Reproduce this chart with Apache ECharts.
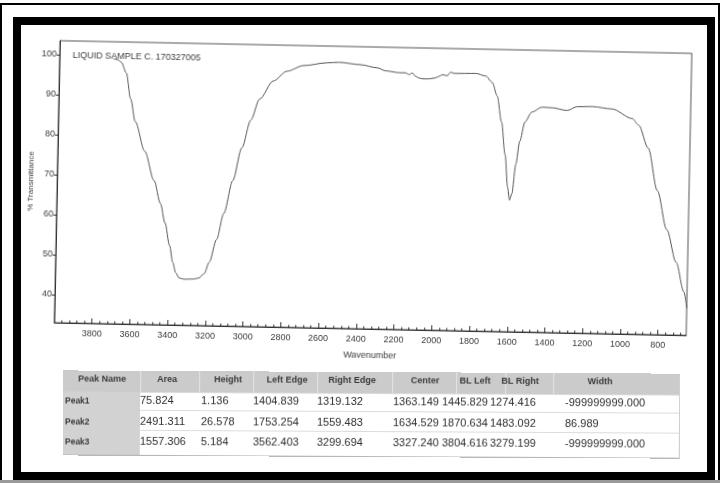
<!DOCTYPE html>
<html>
<head>
<meta charset="utf-8">
<script src="https://cdn.jsdelivr.net/npm/echarts@6/dist/echarts.min.js"></script>
<style>
  html, body { margin: 0; padding: 0; background: #fff; }
  #page { position: relative; width: 720px; height: 483px; overflow: hidden; background: #fff;
          font-family: "Liberation Sans", Arial, sans-serif; }
  #outer { position: absolute; left: 0; top: 3px; width: 716px; height: 478px; border: 2px solid #000; }
  #frame { position: absolute; left: 13px; top: 17px; width: 686px; height: 447px; border: 8px solid #000; }
  #strip { position: absolute; left: 0; top: 480px; width: 720px; height: 3px; background: #9a9a9a; }
  #spectrum { position: absolute; left: 0; top: 0; width: 720px; height: 365px;
              transform: rotate(1.15deg); transform-origin: 373px 191px; }
  #peaks { position: absolute; left: 63px; top: 372px; width: 617px; height: 85px;
           transform: rotate(0.3deg); transform-origin: 300px 40px; }
  .bg { position: absolute; background: #cbcbcb; }
  .rule { position: absolute; background: #b8b8b8; }
  .hd { position: absolute; font-size: 9px; font-weight: bold; color: #3a3a3a; transform: translateX(-50%); white-space: nowrap; }
  .nm { position: absolute; font-size: 8.5px; font-weight: bold; color: #3a3a3a; }
  .val { position: absolute; font-size: 11px; color: #2e2e2e; white-space: nowrap; }
</style>
</head>
<body>
<div id="page">
  <div id="outer"></div>
  <div id="frame"></div>
  <div id="strip"></div>
  <div id="spectrum"></div>
  <div id="peaks"></div>
</div>
<script>
// spectrum: wavenumber (cm-1) and % transmittance
const wavenumber = [3715, 3690, 3672, 3645, 3619, 3592, 3539, 3486, 3450, 3424, 3397, 3379, 3362, 3344, 3317,
  3291, 3265, 3238, 3211, 3185, 3149, 3113, 3069, 3025, 2980, 2936, 2865, 2794, 2706, 2581, 2519, 2404, 2315,
  2271, 2200, 2165, 2147, 2129, 2112, 2094, 2076, 2041, 2005, 1987, 1970, 1943, 1926, 1908, 1792, 1739, 1704,
  1677, 1651, 1629, 1612, 1601, 1589, 1571, 1553, 1527, 1492, 1438, 1385, 1305, 1252, 1172, 1066, 959, 924,
  871, 818, 764, 711, 667, 650];
const transmittance = [99.3, 99.0, 98.4, 95.8, 89.3, 83.6, 76.3, 69.0, 63.3, 58.5, 52.8, 48.7, 46.1, 44.8, 44.5,
  44.55, 44.6, 44.9, 46.0, 48.9, 54.6, 61.2, 69.4, 77.6, 84.6, 89.9, 94.5, 97.0, 98.5, 99.3, 99.5, 99.0, 98.3,
  97.6, 97.2, 97.2, 96.8, 97.2, 96.4, 96.0, 95.8, 95.8, 96.1, 96.5, 96.9, 96.7, 97.6, 97.3, 97.4, 96.8, 95.2,
  91.9, 85.4, 77.3, 69.1, 65.9, 67.5, 74.9, 80.6, 85.5, 88.0, 89.3, 89.2, 88.6, 89.6, 89.7, 89.2, 86.9, 85.3,
  79.6, 69.0, 59.3, 51.2, 43.9, 39.8];

const xLabels = [3800, 3600, 3400, 3200, 3000, 2800, 2600, 2400, 2200, 2000, 1800, 1600, 1400, 1200, 1000, 800];
const yLabels = [40, 50, 60, 70, 80, 90, 100];
const minorTicks = [];
for (let t = 680; t < 4000; t += 40) minorTicks.push(t);

const sampleTitle = 'LIQUID SAMPLE C. 170327005';

// peak table
const tableHeaders = ['Peak Name', 'Area', 'Height', 'Left Edge', 'Right Edge', 'Center', 'BL Left', 'BL Right', 'Width'];
const peakNames = ['Peak1', 'Peak2', 'Peak3'];
const area = ['75.824', '2491.311', '1557.306'];
const height = ['1.136', '26.578', '5.184'];
const leftEdge = ['1404.839', '1753.254', '3562.403'];
const rightEdge = ['1319.132', '1559.483', '3299.694'];
const center = ['1363.149', '1634.529', '3327.240'];
const blLeft = ['1445.829', '1870.634', '3804.616'];
const blRight = ['1274.416', '1483.092', '3279.199'];
const width = ['-999999999.000', '86.989', '-999999999.000'];

const chart = echarts.init(document.getElementById('spectrum'));
const ink = '#3c3c3c';
const option = {
  animation: false,
  grid: { left: 57, right: 31, top: 47, bottom: 30, show: true, borderColor: '#555', borderWidth: 1 },
  xAxis: [{
    type: 'value', inverse: true, min: 650, max: 4000, position: 'bottom',
    name: 'Wavenumber', nameLocation: 'middle', nameGap: 22, nameMoveOverlap: false,
    nameTextStyle: { fontSize: 9, color: ink, fontFamily: 'Liberation Sans' },
    axisLine: { show: true, lineStyle: { color: '#333', width: 1 } },
    axisTick: { inside: true, length: 5, customValues: xLabels, lineStyle: { color: '#333' } },
    axisLabel: { customValues: xLabels, fontSize: 9, color: ink, margin: 6, fontFamily: 'Liberation Sans',
                 formatter: v => String(v) },
    splitLine: { show: false }
  }, {
    type: 'value', inverse: true, min: 650, max: 4000, position: 'bottom',
    axisLine: { show: false },
    axisTick: { inside: true, length: 2.5, customValues: minorTicks, lineStyle: { color: '#333' } },
    axisLabel: { show: false },
    splitLine: { show: false }
  }],
  yAxis: {
    type: 'value', min: 33, max: 103.5,
    name: '% Transmittance', nameLocation: 'middle', nameGap: 22, nameMoveOverlap: false,
    nameTextStyle: { fontSize: 8, color: ink, fontFamily: 'Liberation Sans' },
    axisLine: { show: true, lineStyle: { color: '#333', width: 1 } },
    axisTick: { show: true, length: 3, customValues: yLabels, lineStyle: { color: '#333' } },
    axisLabel: { customValues: yLabels, fontSize: 9, color: ink, margin: 3, fontFamily: 'Liberation Sans',
                 formatter: v => String(v) },
    splitLine: { show: false }
  },
  graphic: [{
    type: 'text', left: 70, top: 57,
    style: { text: sampleTitle, fontSize: 9, fill: ink, fontFamily: 'Liberation Sans' }
  }],
  series: [{
    type: 'line',
    data: wavenumber.map((w, i) => [w, transmittance[i]]),
    showSymbol: false,
    smooth: 0.3,
    smoothMonotone: 'x',
    lineStyle: { color: '#555', width: 1 }
  }]
};
chart.setOption(option);

// peak table, drawn as positioned text
const tbl = document.getElementById('peaks');
function add(cls, text, x, y, extra) {
  const d = document.createElement('div');
  d.className = cls;
  if (text != null) d.textContent = text;
  d.style.left = x + 'px';
  d.style.top = y + 'px';
  if (extra) Object.assign(d.style, extra);
  tbl.appendChild(d);
  return d;
}
// shaded header row and name column
add('bg', null, 0, 0, { width: '617px', height: '21px' });
add('bg', null, 0, 21, { width: '77px', height: '64px', background: '#d2d2d2' });
// row rules and column dividers
[21, 39, 59].forEach(y => add('rule', null, 77, y, { width: '540px', height: '1px', background: '#dcdcdc' }));
add('rule', null, 0, 84, { width: '617px', height: '1px' });
add('rule', null, 616, 0, { width: '1px', height: '85px', background: '#d0d0d0' });
const dividers = [77, 136, 190, 254, 329, 393, 442, 490];
dividers.forEach(x => add('rule', null, x, 0, { width: '1px', height: '21px', background: '#e4e4e4' }));

const headerX = [39, 104, 165, 224, 289, 362, 412, 457, 537];
tableHeaders.forEach((h, i) => add('hd', h, headerX[i], 3));

const columns = [area, height, leftEdge, rightEdge, center, blLeft, blRight, width];
const valueX = [77, 138, 190, 254, 330, 379, 427, 502];
const rowY = [23, 44, 64];
peakNames.forEach((p, r) => {
  add('nm', p, 2, rowY[r] + 2);
  columns.forEach((col, c) => add('val', col[r], valueX[c], rowY[r]));
});
</script>
</body>
</html>
